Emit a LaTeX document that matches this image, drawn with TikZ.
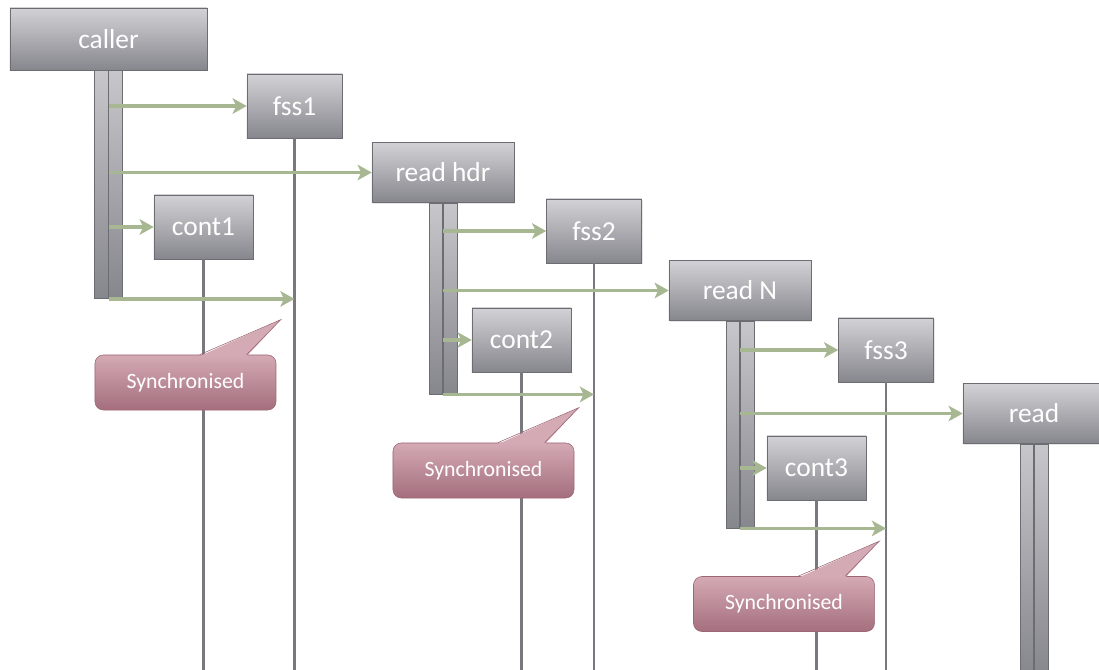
\documentclass[tikz,border=0pt]{standalone}
\usepackage{fontspec}
\setmainfont{Carlito}
\usetikzlibrary{arrows.meta,positioning,calc,shadows}
\definecolor{boxtop}{RGB}{210,210,214}
\definecolor{boxbot}{RGB}{134,134,141}
\definecolor{boxedge}{RGB}{108,108,114}
\definecolor{msggreen}{RGB}{166,183,146}
\definecolor{lifegray}{RGB}{120,120,126}
\definecolor{synctop}{RGB}{212,170,180}
\definecolor{syncbot}{RGB}{164,110,125}
\definecolor{syncedge}{RGB}{156,102,117}

\begin{document}
\begin{tikzpicture}[x=0.025cm,y=-0.025cm,
    proc/.style={draw=boxedge, top color=boxtop, bottom color=boxbot, text=white,
      font=\fontsize{19.5}{23}\selectfont, inner sep=0pt, minimum height=1.6cm,
      drop shadow={opacity=0.2, shadow xshift=1pt, shadow yshift=-1pt}},
    wide/.style={proc, minimum width=3.55cm, minimum height=1.5cm},
    narrow/.style={proc, minimum width=2.375cm},
    cont/.style={proc, minimum width=2.475cm},
    actbar/.style={draw=boxedge, top color=boxtop!85!boxbot, bottom color=boxbot,
      minimum width=0.7cm, inner sep=0pt},
    life/.style={lifegray, line width=1.8pt},
    msg/.style={msggreen, line width=2.6pt, -{Stealth[length=10pt,width=11pt,inset=2.5pt]}},
    sync/.style={draw=syncedge, top color=synctop, bottom color=syncbot, text=white,
      rounded corners=6pt, font=\fontsize{15.5}{18}\selectfont,
      minimum width=4.525cm, minimum height=1.375cm}]
  \path[use as bounding box, clip] (0,0) rectangle (1099,670);
  \coordinate (floor) at (0,672);

  % processes
  \node[proc, minimum width=4.925cm, minimum height=1.55cm] (caller) at (108.5,39) {caller};
  \node[narrow] (fss1) at (294.5,106) {fss1};
  \node[cont] (cont1) at (203.5,227) {cont1};
  \node[wide] (rdhdr) at (443,172.5) {read hdr};
  \node[narrow] (fss2) at (594,231) {fss2};
  \node[cont] (cont2) at (521.5,340) {cont2};
  \node[wide] (rdN) at (740,290.5) {read N};
  \node[narrow] (fss3) at (886,350) {fss3};
  \node[cont] (cont3) at (816.5,468) {cont3};
  \node[wide] (rd) at (1034,413.5) {read};

  % activation bars
  \node[actbar, minimum height=5.7cm, below=0pt of caller] (callerbar) {};
  \node[actbar, minimum height=4.775cm, below=0pt of rdhdr] (rdhdrbar) {};
  \node[actbar, minimum height=5.175cm, below=0pt of rdN] (rdNbar) {};
  \node[actbar, minimum height=5.8cm, below=0pt of rd] (rdbar) {};
  \foreach \b in {callerbar,rdhdrbar,rdNbar,rdbar}
    \draw[boxedge, line width=1.2pt] (\b.north) -- (\b.south);

  % lifelines
  \foreach \n in {fss1,cont1,fss2,cont2,fss3,cont3}
    \draw[life] (\n.south) -- (\n.south |- floor);

  % messages
  \draw[msg] (callerbar.center |- fss1) -- (fss1);
  \draw[msg] (callerbar.center |- rdhdr) -- (rdhdr);
  \draw[msg] (callerbar.center |- cont1) -- (cont1);
  \draw[msg] (callerbar.south) -- (fss1 |- callerbar.south);

  \draw[msg] (rdhdrbar.center |- fss2) -- (fss2);
  \draw[msg] (rdhdrbar.center |- rdN) -- (rdN);
  \draw[msg] (rdhdrbar.center |- cont2) -- (cont2);
  \draw[msg] (rdhdrbar.south) -- (fss2 |- rdhdrbar.south);

  \draw[msg] (rdNbar.center |- fss3) -- (fss3);
  \draw[msg] (rdNbar.center |- rd) -- (rd);
  \draw[msg] (rdNbar.center |- cont3) -- (cont3);
  \draw[msg] (rdNbar.south) -- (fss3 |- rdNbar.south);

  % callouts
  \node[sync] (sync1) at (185.5,382.5) {Synchronised};
  \node[sync] (sync2) at (483.5,470.5) {Synchronised};
  \node[sync] (sync3) at (784,604) {Synchronised};
  \foreach \n in {1,2,3}{
    \fill[synctop] ($(sync\n.north west)+(105,1.5)$) -- ($(sync\n.north west)+(186,-35)$)
      -- ($(sync\n.north west)+(152,1.5)$) -- cycle;
    \draw[syncedge] ($(sync\n.north west)+(105,0)$) -- ($(sync\n.north west)+(186,-35)$)
      -- ($(sync\n.north west)+(152,0)$);
  }
\end{tikzpicture}
\end{document}
